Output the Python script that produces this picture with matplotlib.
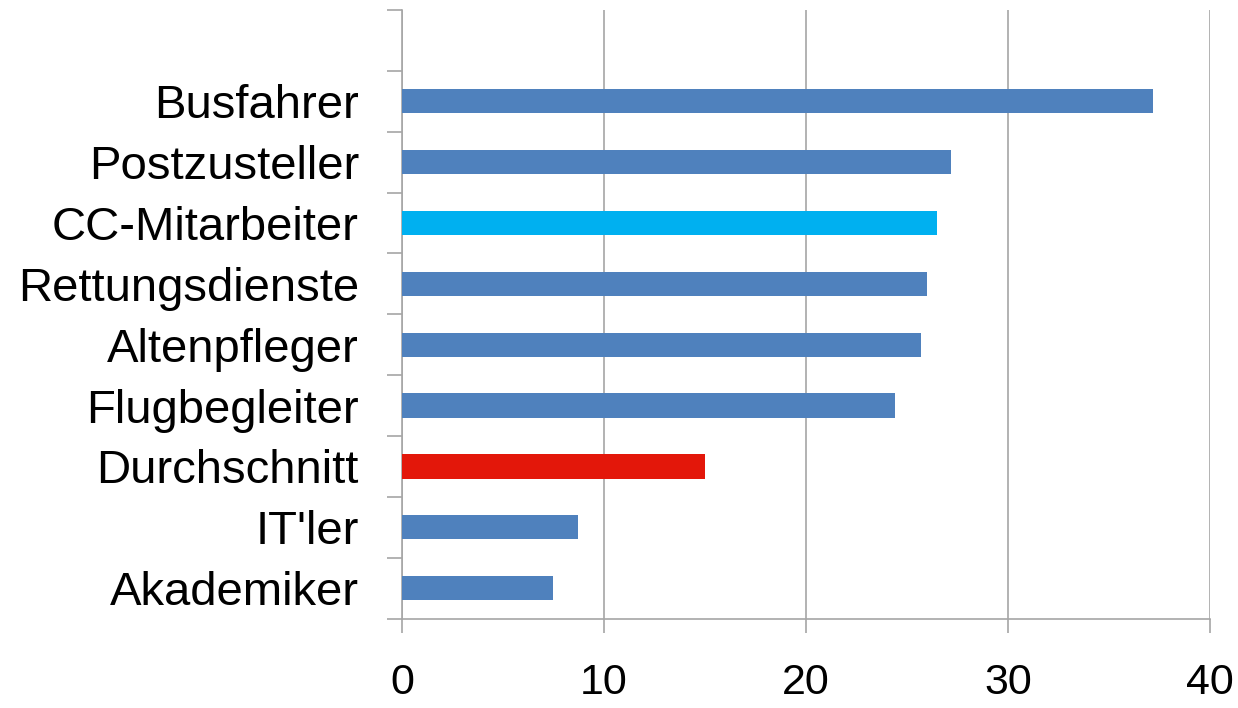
import numpy as np
import matplotlib.pyplot as plt

plt.rcParams['font.family'] = ['Liberation Sans', 'DejaVu Sans']

# categories bottom to top
jobs = ['Akademiker', "IT'ler", 'Durchschnitt', 'Flugbegleiter', 'Altenpfleger',
        'Rettungsdienste', 'CC-Mitarbeiter', 'Postzusteller', 'Busfahrer']
values = [7.5, 8.7, 15.0, 24.4, 25.7, 26.0, 26.5, 27.2, 37.2]
colors = ['#4F81BD', '#4F81BD', '#E3170A', '#4F81BD', '#4F81BD',
          '#4F81BD', '#00B0F0', '#4F81BD', '#4F81BD']

fig = plt.figure(figsize=(12.38, 7.08), dpi=100)
ax = fig.add_axes([0.3247, 0.1264, 0.6527, 0.8595])

pos = np.arange(len(jobs))
ax.barh(pos, values, height=0.4, color=colors, zorder=3)

ax.set_xlim(0, 40)
ax.set_ylim(-0.5, len(jobs) + 0.5)  # one empty slot on top
ax.set_xticks([0, 10, 20, 30, 40])
ax.set_yticks(pos)
ax.set_yticklabels(jobs)
ax.set_yticks(np.arange(-0.5, len(jobs) + 1, 1), minor=True)

grid_c = '#A6A6A6'
ax.grid(axis='x', color=grid_c, linewidth=1.2, zorder=0)
for s in ['top', 'right']:
    ax.spines[s].set_visible(False)
for s in ['left', 'bottom']:
    ax.spines[s].set_color(grid_c)
    ax.spines[s].set_linewidth(1.2)

ax.tick_params(axis='y', which='major', length=0, pad=31, labelsize=34)
ax.tick_params(axis='y', which='minor', length=11, width=1.2, color=grid_c)
ax.tick_params(axis='x', length=10, width=1.2, color=grid_c, pad=22, labelsize=31)

fig.savefig('out.png', dpi=100)
